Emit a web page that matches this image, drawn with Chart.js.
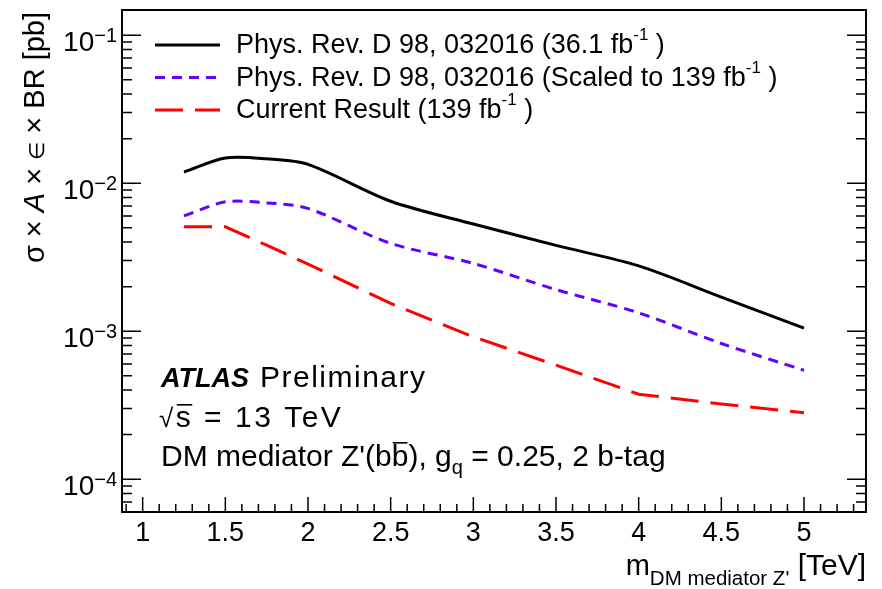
<!DOCTYPE html>
<html>
<head>
<meta charset="utf-8">
<title>DM mediator Z' limits</title>
<script src="https://cdn.jsdelivr.net/npm/chart.js@4.4.0/dist/chart.umd.min.js"></script>
<style>
  body { margin: 0; background: #fff; }
</style>
</head>
<body>
<canvas id="myChart" width="882" height="589"></canvas>
<script>
// values (pb), mass in TeV
var massTeV = [1.25, 1.5, 1.75, 2, 2.5, 3, 3.5, 4, 4.5, 5];
var limitPRD = [0.0119, 0.0148, 0.0146, 0.0134, 0.00755, 0.0053, 0.0038, 0.00276, 0.0017, 0.00105];
var limitScaled = [0.00601, 0.00748, 0.00736, 0.00675, 0.00392, 0.00287, 0.00191, 0.00133, 0.000826, 0.000544];
var limitCurrent = [0.00507, 0.00507, 0.00381, 0.00284, 0.00154, 0.000916, 0.000589, 0.000375, 0.000322, 0.000281];

var xTickValues = [1, 1.5, 2, 2.5, 3, 3.5, 4, 4.5, 5];
var yTickExponents = [-4, -3, -2, -1];
var seriesNames = ['Phys. Rev. D 98, 032016 (36.1 fb', 'Phys. Rev. D 98, 032016 (Scaled to 139 fb', 'Current Result (139 fb'];

var FONT = '"Liberation Sans", Arial, Helvetica, sans-serif';
function font(size, style) {
    return (style ? style + ' ' : '') + size + 'px ' + FONT;
}

function points(ys) {
    return massTeV.map(function (m, i) { return { x: m, y: ys[i] }; });
}

// draw a list of text pieces one after the other, returns end x
function drawRuns(ctx, runs, x, y) {
    runs.forEach(function (r) {
        ctx.font = r.font;
        var w = ctx.measureText(r.text).width;
        ctx.fillText(r.text, x, y + (r.dy || 0));
        if (r.bar) {
            ctx.fillRect(x + 1, y + (r.dy || 0) - r.bar, w - 2, 1.6);
        }
        x += w;
    });
    return x;
}
function runsWidth(ctx, runs) {
    var w = 0;
    runs.forEach(function (r) { ctx.font = r.font; w += ctx.measureText(r.text).width; });
    return w;
}

var atlasDecor = {
    id: 'atlasDecor',
    afterDraw: function (chart) {
        var ctx = chart.ctx, a = chart.chartArea;
        var xs = chart.scales.x, ys = chart.scales.y;
        ctx.save();
        ctx.fillStyle = '#000';
        ctx.strokeStyle = '#000';
        ctx.textBaseline = 'alphabetic';
        ctx.textAlign = 'left';

        // frame
        ctx.lineWidth = 2;
        ctx.strokeRect(a.left, a.top, a.right - a.left, a.bottom - a.top);

        // ticks, pointing inside
        ctx.lineWidth = 1.5;
        ctx.beginPath();
        for (var i = 9; i <= 53; i++) {
            var px = xs.getPixelForValue(i / 10);
            var len = (i % 5 === 0) ? 15 : 8;
            ctx.moveTo(px, a.bottom);
            ctx.lineTo(px, a.bottom - len);
        }
        for (var e = -5; e <= -1; e++) {
            for (var k = 1; k <= 9; k++) {
                var v = k * Math.pow(10, e);
                if (v < ys.min || v > ys.max) continue;
                var py = ys.getPixelForValue(v);
                var l = (k === 1) ? 19 : 10;
                ctx.moveTo(a.left, py); ctx.lineTo(a.left + l, py);
                ctx.moveTo(a.right, py); ctx.lineTo(a.right - l, py);
            }
        }
        ctx.stroke();

        // x tick labels
        ctx.font = font(27);
        ctx.textAlign = 'center';
        xTickValues.forEach(function (t) {
            ctx.fillText(String(t), xs.getPixelForValue(t), a.bottom + 29);
        });

        // y tick labels 10^n
        ctx.textAlign = 'left';
        yTickExponents.forEach(function (n) {
            var py = ys.getPixelForValue(Math.pow(10, n));
            var sup = '\u2212' + (-n);
            ctx.font = font(20);
            var sw = ctx.measureText(sup).width;
            var right = a.left - 5;
            ctx.fillText(sup, right - sw, py + 6.5);
            ctx.font = font(28);
            var mw = ctx.measureText('10').width;
            ctx.fillText('10', right - sw - mw, py + 15.7);
        });

        // y title, rotated
        var yTitle = [
            { text: '\u03c3 \u00d7 ', font: font(29) },
            { text: 'A', font: font(29, 'italic') },
            { text: ' \u00d7 ', font: font(29) },
            { text: '\u2208', font: font(21) },
            { text: ' \u00d7 BR [pb]', font: font(29) }
        ];
        ctx.save();
        ctx.translate(44, 12);
        ctx.rotate(-Math.PI / 2);
        drawRuns(ctx, yTitle, -runsWidth(ctx, yTitle), 0);
        ctx.restore();

        // x title
        var xTitle = [
            { text: 'm', font: font(29) },
            { text: 'DM mediator Z\'', font: font(20.5), dy: 10 },
            { text: ' [TeV]', font: font(30) }
        ];
        drawRuns(ctx, xTitle, 866 - runsWidth(ctx, xTitle), 575);

        // legend
        var rowY = [45, 77.5, 110];
        chart.data.datasets.forEach(function (ds, j) {
            ctx.save();
            ctx.strokeStyle = ds.borderColor;
            ctx.lineWidth = ds.borderWidth;
            ctx.setLineDash(ds.borderDash || []);
            ctx.beginPath();
            ctx.moveTo(155, rowY[j]);
            ctx.lineTo(220, rowY[j]);
            ctx.stroke();
            ctx.restore();
            drawRuns(ctx, [
                { text: seriesNames[j], font: font(27) },
                { text: '-1', font: font(17), dy: -13 },
                { text: ' )', font: font(27) }
            ], 236, rowY[j] + 8);
        });

        // ATLAS label block
        var x0 = 161;
        ctx.font = font(27, 'italic bold');
        ctx.fillText('ATLAS', x0, 387);
        var aw = ctx.measureText('ATLAS').width;
        ctx.letterSpacing = '1.5px';
        ctx.font = font(30);
        ctx.fillText('Preliminary', x0 + aw + 11, 387);

        ctx.letterSpacing = '2.5px';
        drawRuns(ctx, [
            { text: '\u221a', font: font(26) },
            { text: 's', font: font(30), bar: 23 },
            { text: ' = 13 TeV', font: font(30) }
        ], x0 - 2, 427);

        ctx.letterSpacing = '0px';
        drawRuns(ctx, [
            { text: 'DM mediator Z\'(b', font: font(30) },
            { text: 'b', font: font(30), bar: 24 },
            { text: '), g', font: font(30) },
            { text: 'q', font: font(20), dy: 8 },
            { text: ' = 0.25, 2 b-tag', font: font(30) }
        ], x0, 466);

        ctx.restore();
    }
};

var myChart = document.getElementById('myChart').getContext('2d');

var chart = new Chart(myChart, {
    type: 'line',
    data: {
        datasets: [
            {
                label: seriesNames[0],
                data: points(limitPRD),
                borderColor: '#000000',
                borderWidth: 3,
                tension: 0.3,
                pointRadius: 0,
                fill: false
            },
            {
                label: seriesNames[1],
                data: points(limitScaled),
                borderColor: '#6400ff',
                borderWidth: 3,
                borderDash: [10, 7],
                tension: 0.3,
                pointRadius: 0,
                fill: false
            },
            {
                label: seriesNames[2],
                data: points(limitCurrent),
                borderColor: '#ff0000',
                borderWidth: 3,
                borderDash: [28, 12],
                tension: 0,
                pointRadius: 0,
                fill: false
            }
        ]
    },
    options: {
        responsive: false,
        devicePixelRatio: 1,
        animation: false,
        layout: { padding: { left: 122, top: 10, right: 16, bottom: 77 } },
        plugins: {
            legend: { display: false },
            tooltip: { enabled: false }
        },
        scales: {
            x: { type: 'linear', min: 0.875, max: 5.375, display: false },
            y: { type: 'logarithmic', min: 6e-5, max: 0.148, display: false }
        }
    },
    plugins: [atlasDecor]
});
</script>
</body>
</html>
